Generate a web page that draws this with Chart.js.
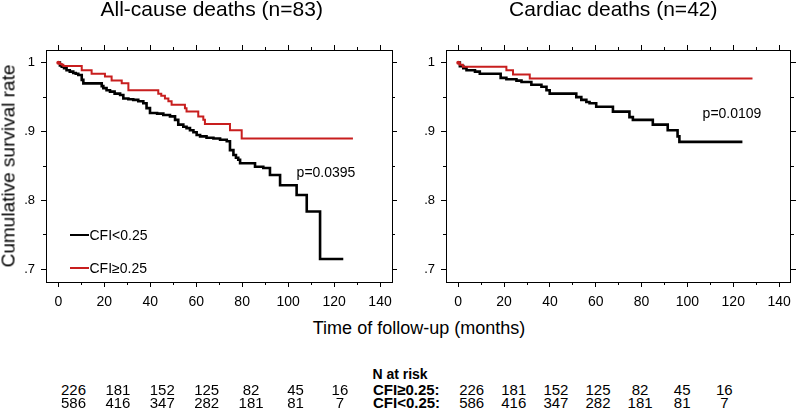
<!DOCTYPE html>
<html>
<head>
<meta charset="utf-8">
<script src="https://cdn.jsdelivr.net/npm/chart.js@4.4.1/dist/chart.umd.min.js"></script>
<style>
  html, body { margin: 0; padding: 0; background: #fff; }
  #wrap { position: relative; width: 798px; height: 408px; overflow: hidden; font-family: 'Liberation Sans', Arial, sans-serif; color: #000; }
  canvas { position: absolute; top: 0; }
  .t { position: absolute; white-space: nowrap; line-height: 1; }
</style>
</head>
<body>
<div id="wrap">
  <canvas id="left" width="400" height="310" style="left:0"></canvas>
  <canvas id="right" width="398" height="310" style="left:400px"></canvas>
</div>
<script>
// Kaplan-Meier estimates (months, cumulative survival)
const allCauseLowT = [0, 0.7, 1.5, 2.5, 3.6, 5.0, 6.5, 7.6, 8.7, 10.2, 10.9, 18.9, 19.6, 21.0, 22.5, 24.5, 26.9, 28.3, 30.5, 32.6, 34.8, 37.0, 38.4, 39.9, 43.0, 45.7, 48.6, 50.8, 52.2, 54.4, 55.8, 57.3, 58.8, 60.2, 61.7, 64.5, 67.5, 70.4, 73.3, 74.7, 76.2, 77.3, 78.3, 79.1, 85.6, 89.2, 92.1, 96.5, 103.7, 108.1, 113.9, 124.0];
const allCauseLowS = [1, 0.996, 0.994, 0.992, 0.989, 0.987, 0.985, 0.984, 0.982, 0.975, 0.970, 0.966, 0.963, 0.960, 0.958, 0.955, 0.953, 0.948, 0.947, 0.946, 0.944, 0.941, 0.934, 0.927, 0.926, 0.924, 0.922, 0.917, 0.910, 0.907, 0.905, 0.902, 0.899, 0.895, 0.893, 0.891, 0.890, 0.888, 0.886, 0.873, 0.866, 0.862, 0.859, 0.854, 0.849, 0.847, 0.837, 0.822, 0.808, 0.784, 0.715, 0.715];
const allCauseHighT = [0, 0.7, 1.5, 2.2, 10.2, 14.5, 20.3, 23.2, 27.6, 30.5, 43.5, 44.8, 46.4, 47.9, 49.3, 55.1, 55.8, 60.9, 63.1, 63.8, 74.7, 79.8, 128.2];
const allCauseHighS = [1, 0.998, 0.997, 0.995, 0.989, 0.984, 0.980, 0.974, 0.970, 0.960, 0.955, 0.952, 0.948, 0.944, 0.939, 0.934, 0.929, 0.922, 0.917, 0.911, 0.902, 0.890, 0.890];
const cardiacLowT = [0, 0.7, 2.2, 3.6, 7.3, 9.4, 18.5, 21.0, 25.4, 27.6, 31.9, 36.3, 38.5, 39.9, 51.5, 53.7, 55.9, 57.3, 60.2, 67.5, 74.7, 76.2, 84.9, 91.4, 95.7, 96.5, 124.0];
const cardiacLowS = [1, 0.995, 0.992, 0.989, 0.987, 0.984, 0.978, 0.976, 0.974, 0.972, 0.968, 0.965, 0.960, 0.955, 0.950, 0.946, 0.943, 0.941, 0.936, 0.929, 0.921, 0.917, 0.910, 0.902, 0.893, 0.885, 0.885];
const cardiacHighT = [0, 0.7, 2.0, 21.0, 23.9, 31.2, 128.4];
const cardiacHighS = [1, 0.997, 0.994, 0.989, 0.983, 0.977, 0.977];

const xMajor = [0, 20, 40, 60, 80, 100, 120, 140];
const xMinor = [10, 30, 50, 70, 90, 110, 130];
const yMajor = [0.7, 0.8, 0.9, 1.0];
const yMinor = [0.75, 0.85, 0.95];

const riskHigh = [226, 181, 152, 125, 82, 45, 16];
const riskLow = [586, 416, 347, 282, 181, 81, 7];

const X_MIN = -5.35, X_MAX = 145.2;
const Y_MIN = 0.6816, Y_MAX = 1.0184;
const BLACK = '#000000';
const RED = '#c81e1e';
const NARROW = "'Liberation Sans Narrow', 'Arial Narrow', sans-serif";

const wrap = document.getElementById('wrap');

function text(str, x, y, size, opts = {}) {
	const el = document.createElement('div');
	el.className = 't';
	el.textContent = str;
	el.style.fontSize = size + 'px';
	if (opts.family) el.style.fontFamily = opts.family;
	if (opts.bold) el.style.fontWeight = 'bold';
	el.style.left = x + 'px';
	el.style.top = (y - 0.4885 * size) + 'px';
	const align = opts.align || 'center';
	if (align === 'center') el.style.transform = 'translateX(-50%)';
	if (align === 'right') el.style.transform = 'translateX(-100%)';
	wrap.appendChild(el);
	return el;
}

function makePanel(id, lowT, lowS, highT, highS, rightWidth) {
	const toPoints = (t, s) => t.map((x, i) => ({ x, y: s[i] }));
	const setTicks = values => scale => { scale.ticks = values.map(value => ({ value })); };
	const grid = len => ({ display: true, drawOnChartArea: false, drawTicks: true, tickLength: len, color: BLACK, lineWidth: 1 });
	const frame = { display: true, color: BLACK, width: 1 };
	const noBorder = { display: false };

	const axis = (position, weight, size, values, len, withBorder, ticks, range) => ({
		type: 'linear',
		position,
		weight,
		min: range[0],
		max: range[1],
		grid: grid(len),
		border: withBorder ? frame : noBorder,
		ticks: ticks || { display: false },
		afterBuildTicks: setTicks(values),
		afterFit: scale => {
			if (position === 'top' || position === 'bottom') scale.height = size;
			else scale.width = size;
		}
	});

	const xr = [X_MIN, X_MAX], yr = [Y_MIN, Y_MAX];

	new Chart(document.getElementById(id), {
		type: 'line',
		data: {
			datasets: [
				{
					data: toPoints(highT, highS),
					borderColor: RED,
					backgroundColor: RED,
					borderWidth: 2,
					stepped: true,
					pointRadius: ctx => ctx.dataIndex === 0 ? 2 : 0,
					pointBorderWidth: 0,
					fill: false
				},
				{
					data: toPoints(lowT, lowS),
					borderColor: BLACK,
					borderWidth: 2.6,
					stepped: true,
					pointRadius: 0,
					fill: false
				}
			]
		},
		options: {
			responsive: false,
			animation: false,
			events: [],
			layout: { padding: 0 },
			plugins: { legend: { display: false }, tooltip: { enabled: false } },
			scales: {
				x: axis('bottom', 1, 28, xMajor, 5, true, {
					display: true, padding: 7, color: BLACK, autoSkip: false, maxRotation: 0,
					font: { family: NARROW, size: 14 },
					callback: v => String(v)
				}, xr),
				xm: axis('bottom', 0, 0, xMinor, 3, false, null, xr),
				xt: axis('top', 1, 50, xMajor, 5, true, null, xr),
				xtm: axis('top', 0, 0, xMinor, 3, false, null, xr),
				y: axis('left', 1, 46, yMajor, 5, true, {
					display: true, padding: 6, color: BLACK,
					font: { family: "'Liberation Sans', Arial, sans-serif", size: 13 },
					callback: v => v >= 0.999 ? '1' : '.' + Math.round(v * 10)
				}, yr),
				ym: axis('left', 0, 0, yMinor, 3, false, null, yr),
				yr: axis('right', 1, rightWidth, yMajor, 5, true, null, yr),
				yrm: axis('right', 0, 0, yMinor, 3, false, null, yr)
			}
		}
	});
}

makePanel('left', allCauseLowT, allCauseLowS, allCauseHighT, allCauseHighS, 8);
makePanel('right', cardiacLowT, cardiacLowS, cardiacHighT, cardiacHighS, 6);

// titles and annotations
text('All-cause deaths (n=83)', 211.7, 8.5, 21);
text('Cardiac deaths (n=42)', 613.3, 8.5, 21);
text('Time of follow-up (months)', 419, 328, 18);
text('p=0.0395', 326, 172, 14);
text('p=0.0109', 732, 113, 14);

const yTitle = document.createElement('div');
yTitle.className = 't';
yTitle.textContent = 'Cumulative survival rate';
yTitle.style.fontSize = '19px';
yTitle.style.left = '8.4px';
yTitle.style.top = '166px';
yTitle.style.transform = 'translate(-50%, -50%) rotate(-90deg)';
wrap.appendChild(yTitle);

// legend inside the left panel
[['CFI<0.25', BLACK, 235], ['CFI\u22650.25', RED, 268.3]].forEach(([name, color, y]) => {
	const line = document.createElement('div');
	line.style.cssText = `position:absolute;left:70px;width:19px;height:2px;top:${y - 1}px;background:${color}`;
	wrap.appendChild(line);
	text(name, 89.5, y, 14, { align: 'left' });
});

// numbers at risk
text('N at risk', 400, 374.3, 14, { bold: true });
text('CFI\u22650.25:', 373, 389, 15, { bold: true, family: NARROW, align: 'left' });
text('CFI<0.25:', 373, 402, 15, { bold: true, family: NARROW, align: 'left' });
riskHigh.forEach((n, i) => {
	text(String(n), 73.5 + i * 44.4, 389, 15, { family: NARROW });
	text(String(n), 471.7 + i * 42.1, 389, 15, { family: NARROW });
});
riskLow.forEach((n, i) => {
	text(String(n), 73.5 + i * 44.4, 402, 15, { family: NARROW });
	text(String(n), 471.7 + i * 42.1, 402, 15, { family: NARROW });
});
</script>
</body>
</html>
